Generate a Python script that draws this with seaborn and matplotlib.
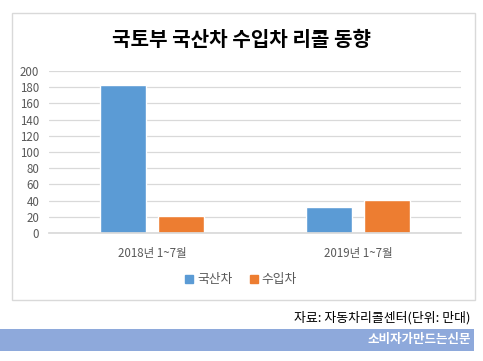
import matplotlib
matplotlib.use("Agg")
import matplotlib.pyplot as plt
import seaborn as sns
import pandas as pd
from matplotlib.patches import Rectangle
from matplotlib.lines import Line2D

categories = ["2018년 1~7월", "2019년 1~7월"]
series_names = ["국산차", "수입차"]
domestic = [183, 32]
imported = [21, 41]
yticks = [0, 20, 40, 60, 80, 100, 120, 140, 160, 180, 200]

title = "국토부 국산차 수입차 리콜 동향"
source = "자료: 자동차리콜센터(단위: 만대)"
banner = "소비자가만드는신문"

colors = ["#5B9BD5", "#ED7D31"]

sns.set_theme(style="white")
plt.rcParams['font.family'] = ['Noto Sans CJK KR', 'DejaVu Sans']

df = pd.DataFrame({
    "cat": categories * 2,
    "series": [series_names[0]] * 2 + [series_names[1]] * 2,
    "value": domestic + imported,
})

fig = plt.figure(figsize=(4.83, 3.61), dpi=100)
fig.patch.set_facecolor("white")

# chart border
fig.add_artist(Rectangle((12 / 483, 1 - 300 / 361), 463 / 483, 287 / 361,
                         transform=fig.transFigure, fill=False,
                         edgecolor="#D9D9D9", linewidth=1))

ax = fig.add_axes([49 / 483, 1 - 233 / 361, 412 / 483, 162 / 361])
sns.barplot(data=df, x="cat", y="value", hue="series", palette=colors,
            width=0.56, gap=0.2, ax=ax, legend=False, saturation=1)

ax.set_ylim(0, 200)
ax.set_yticks(yticks)
ax.set_xlim(-0.5, 1.5)
ax.set_xlabel("")
ax.set_ylabel("")
ax.grid(axis="y", color="#D9D9D9", linewidth=0.9)
ax.set_axisbelow(True)
for s in ["top", "right", "left"]:
    ax.spines[s].set_visible(False)
ax.spines["bottom"].set_color("#D9D9D9")
ax.tick_params(axis="y", length=0, labelsize=8.3, labelcolor="#595959", pad=7)
ax.tick_params(axis="x", length=0, labelsize=8.3, labelcolor="#595959", pad=10)

fig.text(0.5, 1 - 40 / 361, title, ha="center", va="center",
         fontsize=14.5, fontweight="bold", color="#000000")

handles = [Line2D([0], [0], marker="s", linestyle="none", markersize=6,
                  markerfacecolor=c, markeredgecolor=c) for c in colors]
fig.legend(handles, series_names, loc="center", ncol=2,
           bbox_to_anchor=(240 / 483, 1 - 280 / 361), frameon=False,
           fontsize=9.2, labelcolor="#595959", handletextpad=0.1,
           columnspacing=1.2, handlelength=1)

fig.text(471 / 483, 1 - 318 / 361, source, ha="right", va="center",
         fontsize=9.3, color="#000000")

fig.add_artist(Rectangle((0, 1 - 351 / 361), 474 / 483, 22 / 361,
                         transform=fig.transFigure, facecolor="#8EA9DB",
                         edgecolor="none"))
fig.text(471 / 483, 1 - 340 / 361, banner, ha="right", va="center",
         fontsize=9, fontweight="bold", color="white")

fig.savefig("out.png", dpi=100, facecolor="white")
